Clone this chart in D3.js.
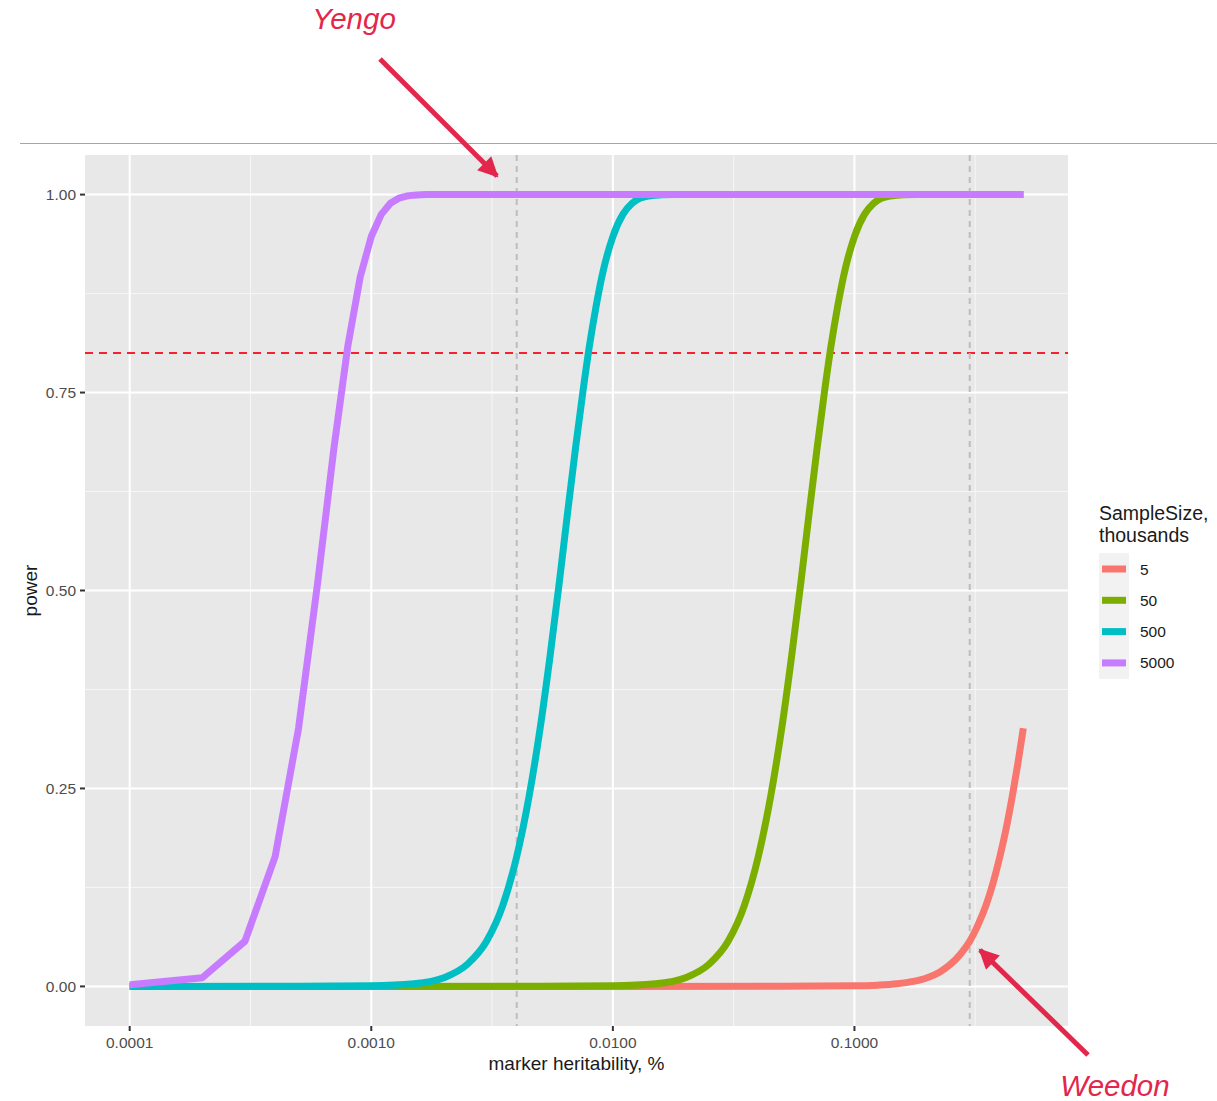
<!DOCTYPE html>
<html lang="en">
<head>
    <meta charset="UTF-8">
    <title>Power vs marker heritability</title>
    <script src="https://cdnjs.cloudflare.com/ajax/libs/d3/7.8.5/d3.min.js"></script>
    <style>
        body {
            margin: 0;
            background: #ffffff;
            font-family: 'Liberation Sans', Arial, sans-serif;
        }
        .tick-label { font-size: 15.5px; fill: #4d4d4d; }
        .axis-title { font-size: 19px; fill: #1a1a1a; }
        .legend-title { font-size: 19.5px; fill: #1a1a1a; }
        .legend-text { font-size: 15.5px; fill: #1a1a1a; }
        .note { font-size: 29.5px; font-style: italic; fill: #e3264b; }
    </style>
</head>
<body>
    <div id="chart"></div>
    <script>
        // values
        const sampleSizes = ["5", "50", "500", "5000"];
        const colors = ["#F8766D", "#7CAE00", "#00BFC4", "#C77CFF"];

        const herit5 = [0.0001, 0.01, 0.05, 0.1, 0.125, 0.15, 0.175, 0.2, 0.225, 0.25, 0.275, 0.3,
            0.325, 0.35, 0.375, 0.4, 0.425, 0.45, 0.475, 0.5];
        const power5 = [0, 0, 0.0001, 0.0007, 0.0016, 0.0033, 0.0063, 0.011, 0.018, 0.028, 0.041, 0.057,
            0.078, 0.102, 0.131, 0.164, 0.200, 0.240, 0.282, 0.326];

        const herit50 = [0.0001, 0.005, 0.01, 0.015, 0.02, 0.025, 0.03, 0.035, 0.04, 0.045, 0.05, 0.055,
            0.06, 0.065, 0.07, 0.075, 0.08, 0.085, 0.09, 0.1, 0.11, 0.12, 0.13, 0.14, 0.15, 0.16, 0.18, 0.5];
        const power50 = [0, 0.0001, 0.0007, 0.0033, 0.011, 0.028, 0.057, 0.102, 0.164, 0.240, 0.326, 0.418,
            0.510, 0.599, 0.679, 0.749, 0.809, 0.857, 0.896, 0.947, 0.975, 0.989, 0.9955, 0.9982, 0.9993, 0.9998, 1, 1];

        const herit500 = [0.0001, 0.0005, 0.001, 0.0015, 0.002, 0.0025, 0.003, 0.0035, 0.004, 0.0045, 0.005, 0.0055,
            0.006, 0.0065, 0.007, 0.0075, 0.008, 0.0085, 0.009, 0.01, 0.011, 0.012, 0.013, 0.014, 0.015, 0.016, 0.018, 0.5];
        const power500 = [0, 0.0001, 0.0007, 0.0033, 0.011, 0.028, 0.057, 0.102, 0.164, 0.240, 0.326, 0.418,
            0.510, 0.599, 0.679, 0.749, 0.809, 0.857, 0.896, 0.947, 0.975, 0.989, 0.9955, 0.9982, 0.9993, 0.9998, 1, 1];

        const herit5000 = [0.0001, 0.0002, 0.0003, 0.0004, 0.0005, 0.0006, 0.0007, 0.0008, 0.0009, 0.001,
            0.0011, 0.0012, 0.0013, 0.0014, 0.0015, 0.0016, 0.0017, 0.002, 0.5];
        const power5000 = [0.002, 0.011, 0.057, 0.164, 0.326, 0.510, 0.679, 0.809, 0.896, 0.947,
            0.975, 0.989, 0.9955, 0.9982, 0.9993, 0.9998, 1, 1, 1];

        const xTicks = [0.0001, 0.001, 0.01, 0.1];
        const xTickLabels = ["0.0001", "0.0010", "0.0100", "0.1000"];
        const xMinor = [0.0001 * Math.sqrt(10), 0.001 * Math.sqrt(10), 0.01 * Math.sqrt(10), 0.1 * Math.sqrt(10)];
        const yTicks = [0, 0.25, 0.5, 0.75, 1];
        const yTickLabels = ["0.00", "0.25", "0.50", "0.75", "1.00"];
        const yMinor = [0.125, 0.375, 0.625, 0.875];
        const powerTarget = 0.8;
        const studyMarks = [0.004, 0.3];

        // the 5000 series is coarse at the low end, so it keeps straight segments
        const series = [
            { size: sampleSizes[0], x: herit5, y: power5, color: colors[0], smooth: true },
            { size: sampleSizes[1], x: herit50, y: power50, color: colors[1], smooth: true },
            { size: sampleSizes[2], x: herit500, y: power500, color: colors[2], smooth: true },
            { size: sampleSizes[3], x: herit5000, y: power5000, color: colors[3], smooth: false }
        ];

        const width = 1217, height = 1101;
        const panel = { left: 85, right: 1068, top: 155, bottom: 1026 };

        const svg = d3.select("#chart").append("svg")
            .attr("width", width)
            .attr("height", height);

        // ggplot-like 5% expansion in log space
        const lx0 = Math.log10(0.0001), lx1 = Math.log10(0.5);
        const ex = (lx1 - lx0) * 0.05;
        const x = d3.scaleLog()
            .domain([Math.pow(10, lx0 - ex), Math.pow(10, lx1 + ex)])
            .range([panel.left, panel.right]);
        const y = d3.scaleLinear()
            .domain([-0.05, 1.05])
            .range([panel.bottom, panel.top]);

        // separator rule above the plot
        svg.append("line")
            .attr("x1", 20).attr("x2", width)
            .attr("y1", 143.5).attr("y2", 143.5)
            .attr("stroke", "#a6a6a6").attr("stroke-width", 1);

        // panel
        svg.append("rect")
            .attr("x", panel.left).attr("y", panel.top)
            .attr("width", panel.right - panel.left)
            .attr("height", panel.bottom - panel.top)
            .attr("fill", "#e8e8e8");

        const grid = svg.append("g");
        grid.selectAll(".ymin").data(yMinor).enter().append("line")
            .attr("x1", panel.left).attr("x2", panel.right)
            .attr("y1", d => y(d)).attr("y2", d => y(d))
            .attr("stroke", "#f6f6f6").attr("stroke-width", 1);
        grid.selectAll(".xmin").data(xMinor).enter().append("line")
            .attr("y1", panel.top).attr("y2", panel.bottom)
            .attr("x1", d => x(d)).attr("x2", d => x(d))
            .attr("stroke", "#f6f6f6").attr("stroke-width", 1);
        grid.selectAll(".ymaj").data(yTicks).enter().append("line")
            .attr("x1", panel.left).attr("x2", panel.right)
            .attr("y1", d => y(d)).attr("y2", d => y(d))
            .attr("stroke", "#ffffff").attr("stroke-width", 2);
        grid.selectAll(".xmaj").data(xTicks).enter().append("line")
            .attr("y1", panel.top).attr("y2", panel.bottom)
            .attr("x1", d => x(d)).attr("x2", d => x(d))
            .attr("stroke", "#ffffff").attr("stroke-width", 2);

        // reference lines
        svg.append("line")
            .attr("x1", panel.left).attr("x2", panel.right)
            .attr("y1", y(powerTarget)).attr("y2", y(powerTarget))
            .attr("stroke", "#f5222d").attr("stroke-width", 2)
            .attr("stroke-dasharray", "8,6");
        svg.selectAll(".study").data(studyMarks).enter().append("line")
            .attr("y1", panel.top).attr("y2", panel.bottom)
            .attr("x1", d => x(d)).attr("x2", d => x(d))
            .attr("stroke", "#bdbdbd").attr("stroke-width", 2)
            .attr("stroke-dasharray", "6,5");

        // curves
        const smoothLine = d3.line()
            .x(d => x(d[0]))
            .y(d => y(d[1]))
            .curve(d3.curveMonotoneX);
        const straightLine = d3.line()
            .x(d => x(d[0]))
            .y(d => y(d[1]));
        svg.selectAll(".curve").data(series).enter().append("path")
            .attr("d", s => (s.smooth ? smoothLine : straightLine)(s.x.map((v, i) => [v, s.y[i]])))
            .attr("fill", "none")
            .attr("stroke", s => s.color)
            .attr("stroke-width", 7)
            .attr("stroke-linejoin", "round")
            .attr("stroke-linecap", "butt");

        // axes
        const axes = svg.append("g");
        axes.selectAll(".xt").data(xTicks).enter().append("line")
            .attr("x1", d => x(d)).attr("x2", d => x(d))
            .attr("y1", panel.bottom).attr("y2", panel.bottom + 5)
            .attr("stroke", "#333").attr("stroke-width", 2);
        axes.selectAll(".xl").data(xTicks).enter().append("text")
            .attr("class", "tick-label")
            .attr("x", d => x(d)).attr("y", panel.bottom + 22)
            .attr("text-anchor", "middle")
            .text((d, i) => xTickLabels[i]);
        axes.selectAll(".yt").data(yTicks).enter().append("line")
            .attr("x1", panel.left - 5).attr("x2", panel.left)
            .attr("y1", d => y(d)).attr("y2", d => y(d))
            .attr("stroke", "#333").attr("stroke-width", 2);
        axes.selectAll(".yl").data(yTicks).enter().append("text")
            .attr("class", "tick-label")
            .attr("x", panel.left - 9).attr("y", d => y(d))
            .attr("dy", "0.35em")
            .attr("text-anchor", "end")
            .text((d, i) => yTickLabels[i]);

        svg.append("text")
            .attr("class", "axis-title")
            .attr("x", (panel.left + panel.right) / 2).attr("y", 1070)
            .attr("text-anchor", "middle")
            .text("marker heritability, %");
        svg.append("text")
            .attr("class", "axis-title")
            .attr("transform", `translate(37,${(panel.top + panel.bottom) / 2}) rotate(-90)`)
            .attr("text-anchor", "middle")
            .text("power");

        // legend
        const legend = svg.append("g").attr("transform", "translate(1099,0)");
        legend.append("text").attr("class", "legend-title").attr("y", 520).text("SampleSize,");
        legend.append("text").attr("class", "legend-title").attr("y", 542).text("thousands");
        legend.append("rect")
            .attr("x", 0).attr("y", 553)
            .attr("width", 30).attr("height", 126)
            .attr("fill", "#f2f2f2");
        const keys = legend.selectAll(".key").data(series).enter().append("g")
            .attr("transform", (d, i) => `translate(0,${569 + i * 31.3})`);
        keys.append("line")
            .attr("x1", 3).attr("x2", 27)
            .attr("stroke", d => d.color).attr("stroke-width", 7);
        keys.append("text")
            .attr("class", "legend-text")
            .attr("x", 41).attr("dy", "0.36em")
            .text(d => d.size);

        // annotations
        svg.append("defs").append("marker")
            .attr("id", "head")
            .attr("viewBox", "0 0 10 10")
            .attr("refX", 9).attr("refY", 5)
            .attr("markerWidth", 4.2).attr("markerHeight", 4)
            .attr("markerUnits", "strokeWidth")
            .attr("orient", "auto")
            .append("path").attr("d", "M0,0 L10,5 L0,10 Z").attr("fill", "#e3264b");

        svg.append("text").attr("class", "note")
            .attr("x", 354).attr("y", 29).attr("text-anchor", "middle").text("Yengo");
        svg.append("line")
            .attr("x1", 380).attr("y1", 59).attr("x2", 497).attr("y2", 176)
            .attr("stroke", "#e3264b").attr("stroke-width", 5)
            .attr("marker-end", "url(#head)");

        svg.append("text").attr("class", "note")
            .attr("x", 1115).attr("y", 1096).attr("text-anchor", "middle").text("Weedon");
        svg.append("line")
            .attr("x1", 1088).attr("y1", 1055).attr("x2", 980).attr("y2", 950)
            .attr("stroke", "#e3264b").attr("stroke-width", 5)
            .attr("marker-end", "url(#head)");
    </script>
</body>
</html>
